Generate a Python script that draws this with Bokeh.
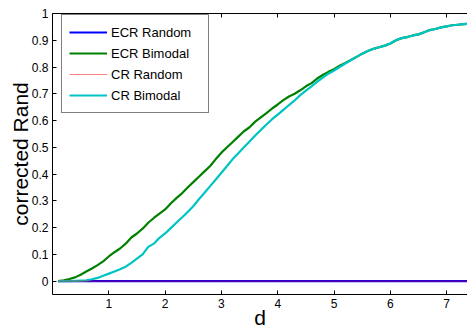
from bokeh.plotting import figure
from bokeh.models import LinearAxis, FixedTicker, Range1d, Legend, LegendItem
from bokeh.embed import file_html
from bokeh.resources import INLINE

# ---- data ----
d_vals = [0.1, 0.2, 0.3, 0.4, 0.5, 0.6, 0.7, 0.8, 0.9, 1.0,
          1.1, 1.2, 1.3, 1.4, 1.5, 1.6, 1.7, 1.8, 1.9, 2.0,
          2.1, 2.2, 2.3, 2.4, 2.5, 2.6, 2.7, 2.8, 2.9, 3.0,
          3.1, 3.2, 3.3, 3.4, 3.5, 3.6, 3.7, 3.8, 3.9, 4.0,
          4.1, 4.2, 4.3, 4.4, 4.5, 4.6, 4.7, 4.8, 4.9, 5.0,
          5.1, 5.2, 5.3, 5.4, 5.5, 5.6, 5.7, 5.8, 5.9, 6.0,
          6.1, 6.2, 6.3, 6.4, 6.5, 6.6, 6.7, 6.8, 6.9, 7.0,
          7.1, 7.2, 7.3, 7.4]

ecr_bimodal = [0.000, 0.003, 0.008, 0.014, 0.024, 0.036, 0.047, 0.060, 0.074, 0.092,
               0.108, 0.122, 0.140, 0.163, 0.178, 0.196, 0.218, 0.236, 0.252, 0.268,
               0.290, 0.310, 0.328, 0.350, 0.370, 0.390, 0.410, 0.430, 0.456, 0.480,
               0.500, 0.520, 0.540, 0.560, 0.575, 0.596, 0.612, 0.628, 0.645, 0.660,
               0.676, 0.690, 0.700, 0.713, 0.728, 0.740, 0.757, 0.770, 0.782, 0.792,
               0.805, 0.815, 0.826, 0.838, 0.850, 0.860, 0.868, 0.874, 0.880, 0.888,
               0.900, 0.908, 0.912, 0.918, 0.922, 0.930, 0.938, 0.942, 0.948, 0.952,
               0.956, 0.958, 0.960, 0.962]

cr_bimodal = [0.000, 0.000, 0.000, 0.001, 0.002, 0.003, 0.007, 0.012, 0.020, 0.028,
              0.036, 0.044, 0.054, 0.068, 0.084, 0.100, 0.128, 0.140, 0.162, 0.178,
              0.198, 0.218, 0.238, 0.258, 0.280, 0.306, 0.330, 0.355, 0.380, 0.405,
              0.430, 0.456, 0.478, 0.500, 0.522, 0.544, 0.565, 0.585, 0.605, 0.622,
              0.640, 0.658, 0.675, 0.695, 0.712, 0.728, 0.745, 0.760, 0.775, 0.787,
              0.800, 0.813, 0.826, 0.838, 0.850, 0.860, 0.868, 0.874, 0.880, 0.888,
              0.900, 0.908, 0.912, 0.918, 0.922, 0.930, 0.938, 0.942, 0.948, 0.952,
              0.956, 0.958, 0.960, 0.962]

ecr_random = [0.0] * len(d_vals)
cr_random = [0.0] * len(d_vals)

x_ticks = [1, 2, 3, 4, 5, 6, 7]
y_ticks = [0, 0.1, 0.2, 0.3, 0.4, 0.5, 0.6, 0.7, 0.8, 0.9, 1]
y_tick_labels = ["0", "0.1", "0.2", "0.3", "0.4", "0.5", "0.6", "0.7", "0.8", "0.9", "1"]

FONT = "Liberation Sans"

p = figure(width=467, height=331, output_backend="svg", toolbar_location=None,
           x_range=Range1d(0, 7.37), y_range=Range1d(-0.05, 1.0),
           min_border_left=52, min_border_right=0, min_border_top=13, min_border_bottom=36)
p.outline_line_color = None
p.xgrid.visible = False
p.ygrid.visible = False

def style_axis(ax):
    ax.axis_line_color = "black"
    ax.axis_line_width = 1
    ax.major_tick_in = 4
    ax.major_tick_out = 0
    ax.minor_tick_line_color = None
    ax.major_label_text_font = FONT
    ax.major_label_text_font_size = "12px"
    ax.major_label_text_color = "black"
    ax.major_label_standoff = 4
    ax.axis_label_text_font = FONT
    ax.axis_label_text_font_style = "normal"
    ax.axis_label_text_font_size = "21px"
    ax.axis_label_text_color = "black"

xa = p.xaxis[0]
ya = p.yaxis[0]
style_axis(xa)
style_axis(ya)
xa.ticker = FixedTicker(ticks=x_ticks)
ya.ticker = FixedTicker(ticks=y_ticks)
ya.major_label_overrides = {t: l for t, l in zip(y_ticks, y_tick_labels)}
xa.axis_label = "d"
ya.axis_label = "corrected Rand"
xa.major_label_standoff = 4
xa.axis_label_standoff = -5
ya.axis_label_standoff = -3

top = LinearAxis(ticker=FixedTicker(ticks=x_ticks))
style_axis(top)
top.major_label_overrides = {t: "" for t in x_ticks}
top.major_label_standoff = 0
p.add_layout(top, "above")

r1 = p.line(d_vals, ecr_random, line_color="#0000ff", line_width=2.2)
r2 = p.line(d_vals, ecr_bimodal, line_color="#008000", line_width=2.2)
r4 = p.line(d_vals, cr_bimodal, line_color="#00c4c4", line_width=2.2)
r3 = p.line(d_vals, cr_random, line_color="#ff0000", line_width=0.5)

legend = Legend(items=[
    LegendItem(label="ECR Random", renderers=[r1]),
    LegendItem(label="ECR Bimodal", renderers=[r2]),
    LegendItem(label="CR Random", renderers=[r3]),
    LegendItem(label="CR Bimodal", renderers=[r4]),
], location=(9, 181))
legend.label_text_font = FONT
legend.label_text_font_size = "13px"
legend.label_text_color = "black"
legend.label_height = 20
legend.glyph_height = 20
legend.glyph_width = 38
legend.label_width = 90
legend.spacing = 1
legend.padding = 7
legend.label_standoff = 4
legend.margin = 0
legend.border_line_color = "black"
legend.border_line_width = 1.2
legend.background_fill_color = "white"
legend.background_fill_alpha = 1
p.add_layout(legend)

open("out.html", "w").write(file_html(p, INLINE))
